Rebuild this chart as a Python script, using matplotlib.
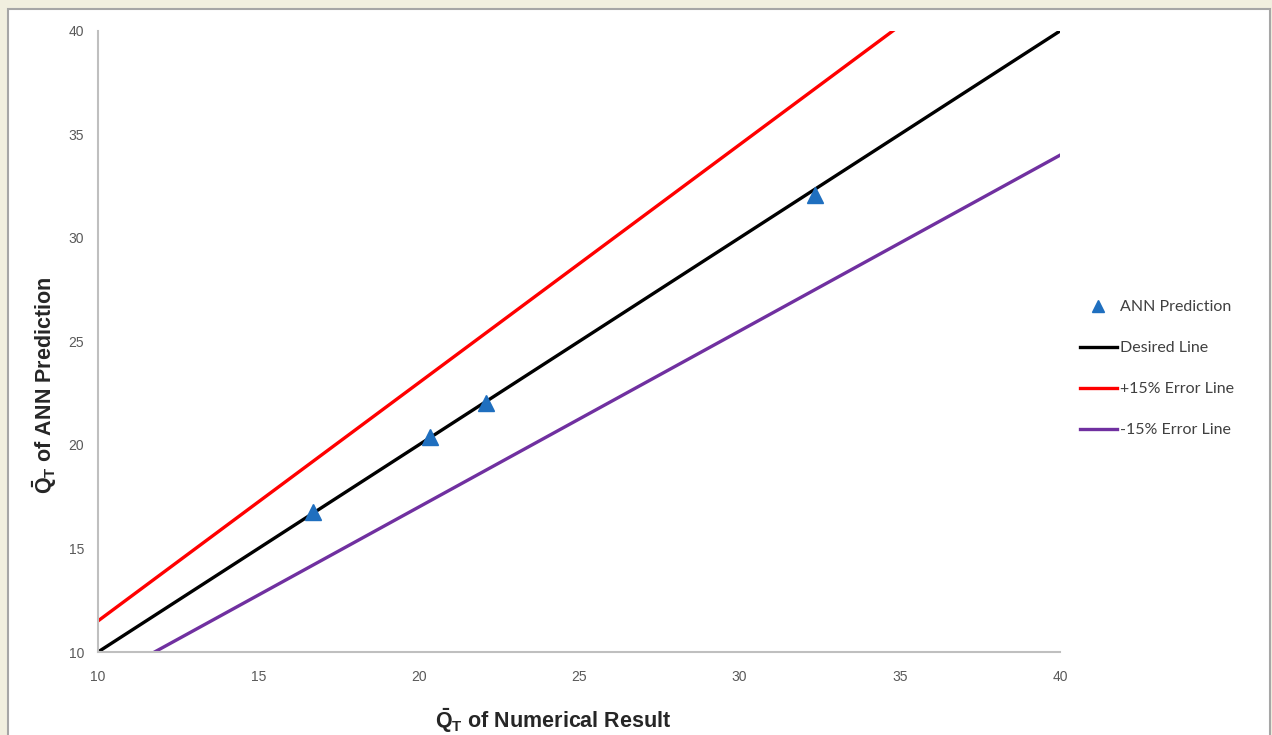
import matplotlib.pyplot as plt
import matplotlib.patches as patches

plt.rcParams['mathtext.fontset'] = 'custom'
plt.rcParams['mathtext.bf'] = 'Liberation Sans:bold'
plt.rcParams['mathtext.rm'] = 'Liberation Sans'

# data
numerical = [16.7, 20.35, 22.1, 32.35]
ann_pred = [16.75, 20.4, 22.05, 32.1]
line_x = [10, 40]
desired = [10, 40]
plus15 = [11.5, 46.0]
minus15 = [8.5, 34.0]

fig = plt.figure(figsize=(12.72, 7.35), dpi=100, facecolor="#F1EFDF")
panel = patches.Rectangle((8 / 1272, -0.01), 1262 / 1272, 1 - 9 / 735 + 0.01,
                          transform=fig.transFigure, facecolor="white",
                          edgecolor="#A6A6A6", linewidth=1.5, zorder=-10)
fig.patches.append(panel)

ax = fig.add_axes([98 / 1272, 83 / 735, 962 / 1272, 621 / 735])
ax.set_facecolor("none")

ax.plot(line_x, desired, color="black", lw=2.4, label="Desired Line", zorder=2)
ax.plot(line_x, plus15, color="#FF0000", lw=2.4, label="+15% Error Line", zorder=2)
ax.plot(line_x, minus15, color="#7030A0", lw=2.4, label="-15% Error Line", zorder=2)
ax.plot(numerical, ann_pred, linestyle="none", marker="^", markersize=12,
        color="#1F6FBF", label="ANN Prediction", zorder=3)

ax.set_xlim(10, 40)
ax.set_ylim(10, 40)
ax.set_xticks([10, 15, 20, 25, 30, 35, 40])
ax.set_yticks([10, 15, 20, 25, 30, 35, 40])
ax.tick_params(length=0, labelsize=10, labelcolor="#595959")
ax.tick_params(axis="x", pad=13)
ax.tick_params(axis="y", pad=10)
for lab in ax.get_xticklabels() + ax.get_yticklabels():
    lab.set_family("Liberation Sans")
for s in ["top", "right"]:
    ax.spines[s].set_visible(False)
for s in ["left", "bottom"]:
    ax.spines[s].set_color("#BFBFBF")
    ax.spines[s].set_linewidth(1.5)

ax.set_xlabel(r"$\mathbf{\bar{Q}_T}$ of Numerical Result", fontsize=15.5,
              fontweight="bold", family="Liberation Sans", color="#262626")
ax.xaxis.set_label_coords(0.473, -0.088)
ax.set_ylabel(r"$\mathbf{\bar{Q}_T}$ of ANN Prediction", fontsize=15.5,
              fontweight="bold", family="Liberation Sans", color="#262626")
ax.yaxis.set_label_coords(-0.041, 0.43)

handles, labels = ax.get_legend_handles_labels()
order = [3, 0, 1, 2]
leg = fig.legend([handles[i] for i in order], [labels[i] for i in order],
                 loc="upper left", bbox_to_anchor=(1072 / 1272, 1 - 292 / 735),
                 frameon=False, prop={"family": "Lato", "size": 11.5},
                 labelspacing=1.68, handlelength=2.3, handletextpad=0.2,
                 markerscale=0.75, borderpad=0)
for t in leg.get_texts():
    t.set_color("#404040")

plt.savefig("out.png", dpi=100, facecolor=fig.get_facecolor())
